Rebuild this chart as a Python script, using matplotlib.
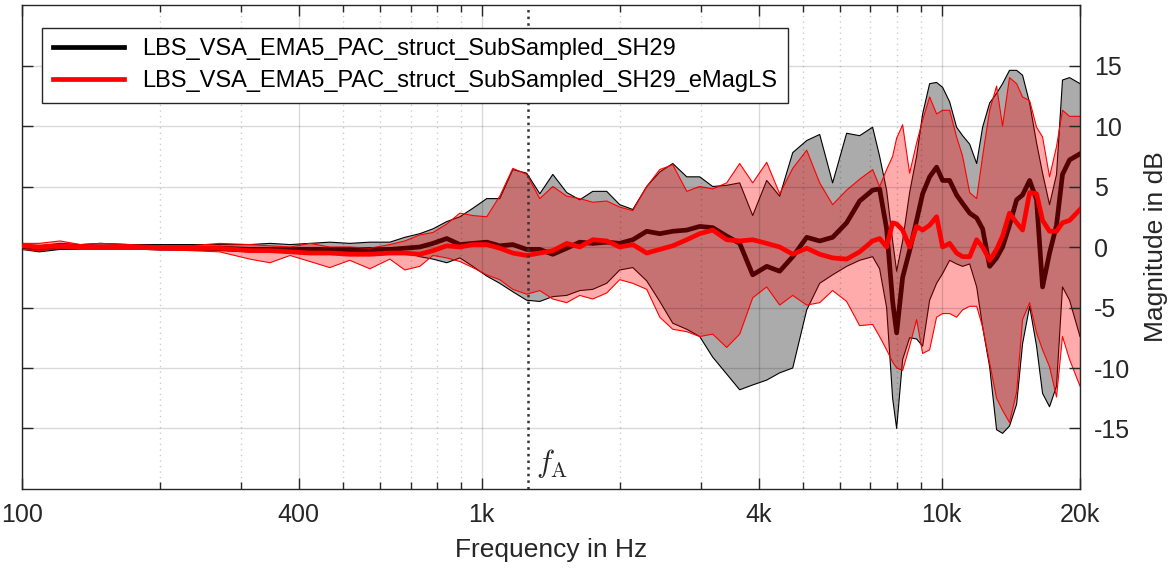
import matplotlib
matplotlib.use("Agg")
import matplotlib.pyplot as plt

# frequencies in Hz
freq = [100, 109, 121, 134, 148, 172, 200, 232, 269, 313, 346, 383, 423, 467, 516,
        571, 631, 680, 733, 783, 839, 896, 956, 1025, 1094, 1168, 1252, 1337, 1427,
        1530, 1633, 1743, 1869, 1995, 2130, 2284, 2438, 2602, 2791, 2978, 3178, 3409,
        3638, 3883, 4165, 4445, 4745, 5089, 5431, 5794, 6215, 6633, 7079, 7331, 7593,
        7825, 7984, 8227, 8520, 8824, 9094, 9418, 9752, 10050, 10410, 10780, 11110,
        11510, 11920, 12280, 12720, 13170, 13570, 14050, 14560, 15000, 15540, 16090,
        16580, 17170, 17780, 18320, 18980, 20000]

# black: LBS_VSA_EMA5_PAC_struct_SubSampled_SH29
black_upper = [0.2, 0.1, 0.3, 0.2, 0.3, 0.2, 0.2, 0.2, 0.2, 0.2, 0.3, 0.2, 0.3, 0.4, 0.3,
               0.4, 0.4, 0.8, 1.1, 1.5, 2.1, 2.5, 3.2, 4.0, 4.0, 6.4, 6.1, 4.4, 6.0,
               4.5, 3.9, 4.6, 4.6, 3.5, 3.1, 5.0, 6.2, 6.9, 5.8, 5.8, 5.0, 5.1,
               5.3, 2.6, 5.5, 4.2, 7.8, 8.8, 9.3, 5.3, 9.4, 9.2, 9.9, 7.5, 4.7,
               0.5, -2.0, 0.5, 4.5, 7.5, 11.0, 13.5, 13.6, 13.2, 12.0, 9.9, 9.2,
               8.5, 6.9, 9.9, 11.9, 12.7, 13.5, 14.6, 14.6, 14.2, 11.9, 8.6,
               6.1, 3.5, 6.0, 13.8, 14.0, 13.5]
black_mean = [0.0, -0.1, 0.0, 0.0, 0.0, 0.0, -0.1, -0.1, -0.1, -0.2, -0.2, -0.2, -0.2, -0.2, -0.2,
              -0.2, -0.2, -0.1, 0.0, 0.3, 0.7, 0.2, 0.3, 0.4, 0.1, 0.2, -0.2, -0.2, -0.6,
              -0.1, 0.4, 0.3, 0.4, 0.3, 0.6, 1.3, 1.1, 1.3, 1.4, 1.7, 1.6, 0.9,
              0.3, -2.3, -1.6, -2.0, -0.8, 0.8, 0.5, 0.8, 2.0, 3.8, 4.7, 4.8, 1.5,
              -4.5, -7.1, -2.5, -0.3, 2.2, 4.4, 5.8, 6.6, 5.5, 5.5, 4.3, 3.6,
              2.8, 2.4, 1.5, -1.6, -0.9, 0.0, 1.8, 3.9, 4.3, 5.5, 3.9,
              -3.3, -0.5, 1.8, 6.0, 7.2, 7.7]
black_lower = [-0.2, -0.4, -0.2, -0.2, -0.2, -0.1, -0.2, -0.2, -0.3, -0.4, -0.4, -0.4, -0.5, -0.5, -0.4,
               -0.4, -0.4, -0.4, -0.8, -1.0, -1.3, -0.9, -1.6, -2.4, -3.0, -3.7, -4.4, -4.5, -4.1,
               -4.0, -3.6, -3.5, -3.0, -1.9, -1.7, -2.8, -4.5, -6.3, -6.8, -7.4, -9.1, -10.5,
               -11.8, -11.4, -11.0, -10.4, -10.0, -5.2, -3.0, -2.3, -1.6, -1.1, -0.8, -1.8, -5.0,
               -12.5, -15.0, -9.3, -7.5, -7.6, -8.2, -4.4, -3.0, -2.2, -1.1, -1.4, -1.6,
               -1.4, -3.3, -6.6, -9.9, -15.1, -15.4, -14.8, -13.0, -8.0, -4.9, -8.2,
               -12.1, -13.2, -11.5, -3.3, -4.4, -7.4]

# red: LBS_VSA_EMA5_PAC_struct_SubSampled_SH29_eMagLS
red_upper = [0.3, 0.3, 0.5, 0.2, 0.3, 0.2, 0.1, 0.1, 0.3, 0.2, 0.1, 0.0, 0.3, 0.0, 0.0,
             -0.1, 0.2, 0.5, 1.0, 1.2, 1.9, 2.8, 2.6, 2.5, 4.2, 6.5, 6.0, 4.0, 5.0,
             4.2, 4.0, 3.7, 3.8, 3.3, 3.0, 5.0, 6.4, 6.8, 4.6, 5.0, 4.8, 5.3,
             6.9, 5.3, 7.0, 4.4, 6.5, 8.0, 5.3, 3.5, 4.7, 5.6, 6.4, 5.0, 6.4,
             7.5, 9.0, 10.1, 6.1, 8.6, 10.5, 12.4, 11.0, 11.3, 11.3, 9.1, 7.5,
             4.5, 4.0, 7.5, 11.3, 13.3, 10.0, 14.0, 13.5, 12.4, 12.1, 9.9,
             9.1, 5.8, 8.3, 11.3, 10.8, 10.8]
red_mean = [0.1, 0.0, 0.1, 0.0, 0.0, 0.0, -0.1, -0.1, -0.1, -0.3, -0.3, -0.4, -0.5, -0.5, -0.6,
            -0.6, -0.5, -0.5, -0.6, -0.3, 0.1, 0.0, 0.2, 0.2, -0.1, -0.5, -0.7, -0.5, -0.3,
            0.3, 0.0, 0.6, 0.5, 0.0, 0.2, -0.5, -0.2, 0.1, 0.6, 1.1, 1.4, 0.6,
            0.5, 0.6, 0.3, 0.0, -0.6, -0.1, -0.6, -0.9, -1.0, -0.4, 0.5, 0.7, 0.0,
            2.0, 1.9, 1.4, 0.0, 1.7, 1.4, 1.8, 2.5, 0.0, 0.3, -0.5, -0.8,
            -0.8, 0.6, 0.0, -1.1, -0.2, 0.9, 2.8, 2.0, 1.4, 4.5, 4.4,
            2.2, 1.3, 1.3, 2.0, 2.2, 3.1]
red_lower = [-0.2, -0.3, -0.1, -0.2, -0.2, -0.2, -0.2, -0.3, -0.4, -1.0, -1.3, -0.7, -1.2, -1.7, -1.1,
             -1.8, -1.0, -1.9, -1.6, -0.7, -0.9, -1.2, -1.7, -2.3, -2.7, -3.5, -3.9, -3.6, -4.3,
             -4.6, -4.0, -4.3, -3.8, -2.7, -3.0, -3.5, -5.8, -6.8, -7.0, -7.4, -7.2, -8.3,
             -7.2, -4.2, -3.3, -4.8, -4.0, -4.8, -4.6, -3.6, -4.5, -6.5, -6.4, -7.4, -8.5,
             -9.5, -10.0, -10.2, -8.2, -6.0, -8.8, -8.5, -5.8, -5.5, -5.5, -5.8, -5.2,
             -4.9, -4.9, -6.6, -9.6, -12.5, -13.5, -14.5, -12.0, -6.0, -4.6, -7.1,
             -8.5, -9.9, -12.4, -7.4, -9.3, -11.5]

plt.rcParams['font.family'] = ['Liberation Sans', 'DejaVu Sans']
plt.rcParams['mathtext.fontset'] = 'cm'

fig = plt.figure(figsize=(11.71, 5.69), dpi=100)
ax = fig.add_axes([0.0188, 0.1406, 0.9035, 0.8506])

# draw order as in the original: black band, black mean, red band over it, red mean
ax.fill_between(freq, black_lower, black_upper, facecolor='black', alpha=0.33, lw=0, zorder=1.0)
ax.plot(freq, black_upper, color='black', lw=0.8, zorder=1.1)
ax.plot(freq, black_lower, color='black', lw=0.8, zorder=1.1)
ax.plot(freq, black_mean, color='black', lw=3.4, zorder=1.2,
        label='LBS_VSA_EMA5_PAC_struct_SubSampled_SH29')
ax.fill_between(freq, red_lower, red_upper, facecolor='red', alpha=0.33, lw=0, zorder=1.3)
ax.plot(freq, red_upper, color='red', lw=0.8, zorder=1.35)
ax.plot(freq, red_lower, color='red', lw=0.8, zorder=1.35)
ax.plot(freq, red_mean, color='red', lw=3.4, zorder=2.6,
        label='LBS_VSA_EMA5_PAC_struct_SubSampled_SH29_eMagLS')

f_a = 1259
ax.axvline(f_a, color='#333333', ls=':', lw=1.8, zorder=2.7)
ax.text(f_a * 1.04, -18.6, r'$f_\mathrm{A}$', fontsize=22, color='#262626')

ax.set_xscale('log')
ax.set_xlim(100, 20000)
ax.set_ylim(-20, 20)
ax.set_xticks([100, 400, 1000, 4000, 10000, 20000])
ax.set_xticklabels(['100', '400', '1k', '4k', '10k', '20k'])
ax.set_xticks([200, 300, 500, 600, 700, 800, 900, 2000, 3000,
               5000, 6000, 7000, 8000, 9000], minor=True)
ax.set_xticklabels([], minor=True)
ax.set_yticks([-15, -10, -5, 0, 5, 10, 15])
ax.set_yticklabels(['-15', '-10', '-5', '0', '5', '10', '15'])

ax.yaxis.set_label_position('right')
ax.tick_params(which='both', direction='in', top=True, bottom=True, left=True,
               right=True, labelleft=False, labelright=True, colors='#262626',
               labelsize=18)
ax.tick_params(which='major', length=8, width=1, pad=10)
ax.tick_params(which='minor', length=5, width=1)
ax.set_axisbelow(False)
ax.grid(True, which='major', color='black', alpha=0.15, lw=1)
ax.grid(True, which='minor', axis='x', color='black', alpha=0.2, ls=(0, (1, 3)), lw=1)
for s in ax.spines.values():
    s.set_color('#262626')
    s.set_linewidth(1)

ax.set_xlabel('Frequency in Hz', fontsize=19, color='#262626', labelpad=8)
ax.set_ylabel('Magnitude in dB', fontsize=19, color='#262626', labelpad=10)

leg = ax.legend(loc='upper left', bbox_to_anchor=(0.019, 0.953), fontsize=17,
                frameon=True, fancybox=False, handlelength=3.0, borderpad=0.45,
                labelspacing=0.42, borderaxespad=0)
leg.set_zorder(3)
leg.get_frame().set_edgecolor('#262626')
leg.get_frame().set_linewidth(1)
leg.get_frame().set_alpha(1)

fig.savefig('out.png', dpi=100)
